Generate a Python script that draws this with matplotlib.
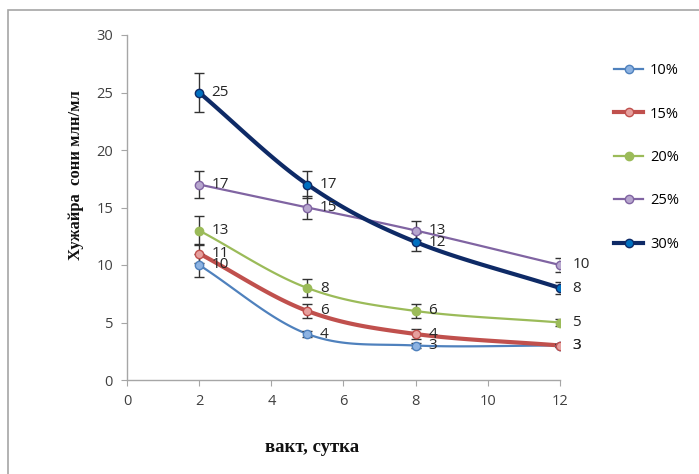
import numpy as np
import matplotlib
matplotlib.use("Agg")
import matplotlib.pyplot as plt
from matplotlib.lines import Line2D
from matplotlib.patches import Rectangle

days = [2, 5, 8, 12]
series_names = ["10%", "15%", "20%", "25%", "30%"]
v10 = [10, 4, 3, 3]
v15 = [11, 6, 4, 3]
v20 = [13, 8, 6, 5]
v25 = [17, 15, 13, 10]
v30 = [25, 17, 12, 8]
e10 = [1.0, 0.3, 0.2, 0.1]
e15 = [0.8, 0.6, 0.4, 0.1]
e20 = [1.3, 0.8, 0.6, 0.3]
e25 = [1.2, 1.0, 0.8, 0.6]
e30 = [1.7, 1.2, 0.8, 0.5]
x_ticks = [0, 2, 4, 6, 8, 10, 12]
y_ticks = [0, 5, 10, 15, 20, 25, 30]

values = [v10, v15, v20, v25, v30]
errors = [e10, e15, e20, e25, e30]
line_colors = ["#4F81BD", "#C0504D", "#9BBB59", "#8064A2", "#0E2A66"]
face_colors = ["#8DB3E2", "#E6A09E", "#9BBB59", "#B7A6CE", "#0070C0"]
edge_colors = ["#4F81BD", "#C0504D", "#9BBB59", "#8064A2", "#0E2A66"]
lws = [1.6, 3.0, 1.6, 1.6, 3.0]


def smooth(x, y, n=40, tension=0.5):
    x = np.asarray(x, float)
    y = np.asarray(y, float)
    P = np.column_stack([x, y])
    P = np.vstack([P[0] - (P[1] - P[0]), P, P[-1] + (P[-1] - P[-2])])
    out = []
    for i in range(1, len(P) - 2):
        p0, p1, p2, p3 = P[i - 1], P[i], P[i + 1], P[i + 2]
        c1 = p1 + (p2 - p0) * tension / 3
        c2 = p2 - (p3 - p1) * tension / 3
        t = np.linspace(0, 1, n)[:, None]
        b = (1 - t) ** 3 * p1 + 3 * (1 - t) ** 2 * t * c1 + 3 * (1 - t) * t ** 2 * c2 + t ** 3 * p2
        out.append(b if i == 1 else b[1:])
    out = np.vstack(out)
    return out[:, 0], out[:, 1]


fig = plt.figure(figsize=(6.99, 4.74), dpi=100)
fig.patches.append(Rectangle((8 / 699, -0.1), 1.2, 1 - 10 / 474 + 0.1, transform=fig.transFigure,
                             fill=False, edgecolor="#A6A6A6", linewidth=1.2))
ax = fig.add_axes([127 / 699, 1 - 380 / 474, (560 - 127) / 699, (380 - 35) / 474])

for i in range(5):
    xs, ys = smooth(days, values[i])
    ax.plot(xs, ys, color=line_colors[i], lw=lws[i], solid_capstyle="round", zorder=2 + i * 0.1)
    ax.errorbar(days, values[i], yerr=errors[i], fmt="none", ecolor="#333333", elinewidth=1.0,
                capsize=3.5, capthick=1.0, zorder=3)
    ax.plot(days, values[i], "o", ms=6, mfc=face_colors[i], mec=edge_colors[i], mew=1.0, zorder=4)
    for xv, yv in zip(days, values[i]):
        ax.annotate(str(yv), (xv, yv), xytext=(9, 0), textcoords="offset points",
                    ha="left", va="center", fontsize=11, color="#262626", family="Open Sans",
                    annotation_clip=False, zorder=5)

ax.set_xlim(0, 12)
ax.set_ylim(0, 30)
ax.set_xticks(x_ticks)
ax.set_yticks(y_ticks)
ax.set_xticklabels([str(t) for t in x_ticks])
ax.set_yticklabels([str(t) for t in y_ticks])
for s in ["top", "right"]:
    ax.spines[s].set_visible(False)
for s in ["left", "bottom"]:
    ax.spines[s].set_color("#A6A6A6")
    ax.spines[s].set_linewidth(1.0)
ax.tick_params(axis="both", direction="out", length=4, color="#A6A6A6", labelsize=10.5,
               labelcolor="#404040", pad=6)
for lab in ax.get_xticklabels() + ax.get_yticklabels():
    lab.set_family("Open Sans")

fig.text(312 / 699, 1 - 447 / 474, "вакт, сутка", ha="center", va="center",
         fontsize=13.5, fontweight="bold", family="Liberation Serif", color="#111111")
fig.text(76 / 699, 1 - 175 / 474, "Хужайра  сони млн/мл", ha="center", va="center", rotation=90,
         fontsize=12, fontweight="bold", family="Liberation Serif", color="#111111")

handles = [Line2D([0], [0], color=line_colors[i], lw=lws[i], marker="o", ms=6,
                  mfc=face_colors[i], mec=edge_colors[i]) for i in range(5)]
fig.legend(handles, series_names, loc="upper left", bbox_to_anchor=(601 / 699, 1 - 50 / 474),
           frameon=False, labelspacing=1.95, handlelength=2.0, handletextpad=0.45,
           prop={"family": "Open Sans", "size": 10.5})

fig.savefig("out.png", dpi=100)
